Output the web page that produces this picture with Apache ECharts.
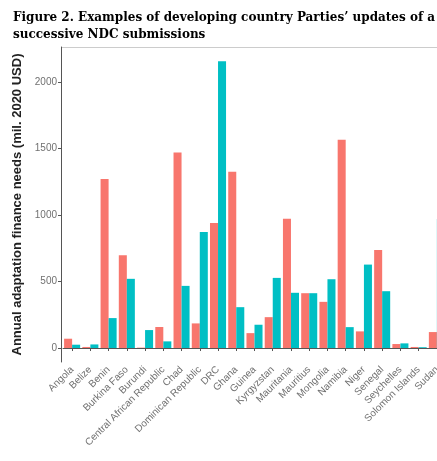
<!DOCTYPE html>
<html>
<head>
<meta charset="utf-8">
<script src="https://cdn.jsdelivr.net/npm/echarts@6/dist/echarts.min.js"></script>
<style>
  html, body { margin: 0; padding: 0; background: #fff; }
  #chart-wrapper { width: 437px; height: 461px; }
</style>
</head>
<body>
<div id="chart-wrapper"></div>
<script>
// countries on the x axis
const countries = [
  "Angola", "Belize", "Benin", "Burkina Faso", "Burundi",
  "Central African Republic", "Chad", "Dominican Republic", "DRC", "Ghana",
  "Guinea", "Kyrgyzstan", "Mauritania", "Mauritius", "Mongolia",
  "Namibia", "Niger", "Senegal", "Seychelles", "Solomon Islands", "Sudan"
];
// earlier NDC (salmon) and later NDC (teal), mil. 2020 USD
const firstNdc = [70, 8, 1270, 697, 3, 158, 1470, 185, 940, 1325, 112, 232, 972, 412, 347, 1565, 125, 737, 30, 8, 120];
const latestNdc = [25, 27, 225, 520, 135, 50, 467, 872, 2155, 307, 175, 527, 415, 412, 517, 157, 627, 427, 35, 6, 970];
const yTicks = [0, 500, 1000, 1500, 2000];

const chartDom = document.getElementById("chart-wrapper");
const chart = echarts.init(chartDom);

const barSeries = (name, values, color) => ({
  name: name,
  type: "bar",
  data: values,
  barGap: "0%",
  barCategoryGap: "12%",
  itemStyle: { color: color },
  emphasis: { disabled: true },
});

const option = {
  backgroundColor: "#fff",
  animation: false,
  title: {
    text: "Figure 2. Examples of developing country Parties\u2019 updates of a\nsuccessive NDC submissions",
    left: 8,
    top: 4,
    textStyle: {
      fontFamily: "DejaVu Serif",
      fontWeight: "bold",
      fontSize: 12,
      lineHeight: 17,
      color: "#000",
    },
  },
  grid: { left: 63, top: 47, width: 383, height: 315, outerBoundsMode: "none" },
  xAxis: {
    type: "category",
    data: countries,
    axisLine: { lineStyle: { color: "#555", width: 1 } },
    axisTick: { show: true, alignWithLabel: true, length: 3, lineStyle: { color: "#555" } },
    axisLabel: {
      interval: 0,
      rotate: 45,
      fontSize: 10,
      fontFamily: "Liberation Sans",
      color: "#707070",
      margin: 6,
    },
  },
  yAxis: {
    type: "value",
    min: -105,
    max: 2262,
    offset: 2,
    name: "Annual adaptation finance needs (mil. 2020 USD)",
    nameLocation: "middle",
    nameGap: 36,
    nameTextStyle: {
      fontFamily: "Liberation Sans",
      fontWeight: "bold",
      fontSize: 13,
      color: "#222",
    },
    axisLine: { show: true, lineStyle: { color: "#555", width: 1 } },
    axisTick: { show: true, length: 3, customValues: yTicks, lineStyle: { color: "#555" } },
    axisLabel: {
      customValues: yTicks,
      formatter: (v) => String(v),
      fontSize: 10,
      fontFamily: "Liberation Sans",
      color: "#707070",
      margin: 4,
    },
    splitLine: { show: false },
  },
  graphic: [
    {
      type: "line",
      shape: { x1: 61, y1: 47.5, x2: 437, y2: 47.5 },
      style: { stroke: "#ccc", lineWidth: 1 },
    },
  ],
  series: [
    barSeries("First NDC", firstNdc, "#F8766D"),
    barSeries("Latest NDC", latestNdc, "#00BFC4"),
  ],
};

chart.setOption(option);
</script>
</body>
</html>
